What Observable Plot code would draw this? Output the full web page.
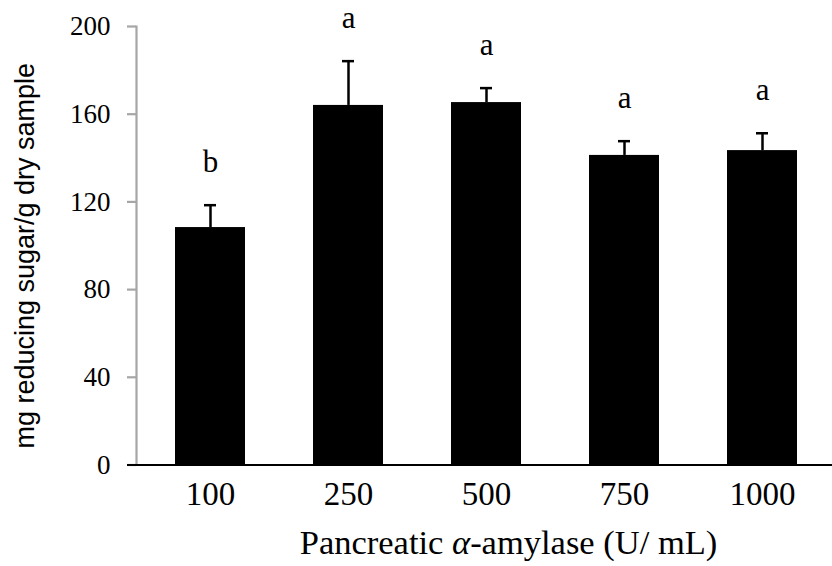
<!DOCTYPE html>
<html>
<head>
<meta charset="utf-8">
<script src="https://cdn.jsdelivr.net/npm/d3@7"></script>
<script src="https://cdn.jsdelivr.net/npm/@observablehq/plot@0.6"></script>
<style>
  html, body { margin: 0; padding: 0; background: white; }
</style>
</head>
<body>
<div id="chart"></div>
<script>
const categories = ["100", "250", "500", "750", "1000"];
const means = [108.3, 164.0, 165.3, 141.2, 143.4];
const errors = [10.2, 20.2, 6.6, 6.5, 7.9];
const letters = ["b", "a", "a", "a", "a"];
const yTicks = [0, 40, 80, 120, 160, 200];
const yTitle = "mg reducing sugar/g dry sample";
const xTitleParts = ["Pancreatic ", "α", "-amylase (U/ mL)"];
const xTitle = xTitleParts.join("");

const data = categories.map((c, i) => ({
  cat: c, mean: means[i], err: errors[i], upper: means[i] + errors[i], letter: letters[i]
}));

const chart = Plot.plot({
  width: 832,
  height: 566,
  marginLeft: 136,
  marginRight: 0,
  marginTop: 26,
  marginBottom: 101.5,
  style: { background: "white", fontFamily: "'Liberation Serif', serif", color: "black", overflow: "visible" },
  x: { type: "band", domain: categories, range: [140, 831], paddingInner: 0.494, paddingOuter: 0.247, label: null },
  y: { domain: [0, 200], ticks: yTicks, label: null },
  marks: [
    Plot.ruleX(data, { x: "cat", y1: "mean", y2: "upper", stroke: "black", strokeWidth: 2.5 }),
    Plot.tickY(data, { x: "cat", y: "upper", stroke: "black", strokeWidth: 2.5, insetLeft: 29, insetRight: 29 }),
    Plot.barY(data, { x: "cat", y: "mean", fill: "black" }),
    Plot.frame({ anchor: "left", stroke: "#a6a6a6", strokeWidth: 2.2 }),
    Plot.axisY({ ticks: yTicks, tickSize: 9, tickPadding: 17, stroke: "#a6a6a6", strokeWidth: 2.2, fontSize: 27, fill: "black", label: null }),
    Plot.ruleY([0], { stroke: "black", strokeWidth: 2, insetLeft: -9 }),
    Plot.axisX({ tickSize: 0, tickPadding: 17, fontSize: 33, fill: "black", label: null }),
    Plot.text(data, { x: "cat", y: "upper", text: "letter", dy: -33, lineAnchor: "bottom", fontSize: 31, fill: "black" }),
    Plot.text([yTitle], { frameAnchor: "left", rotate: -90, dx: -103, dy: 10, lineAnchor: "bottom", textAnchor: "middle", fontSize: 27, fontFamily: "'Liberation Sans', Arial, sans-serif", fill: "black" }),
    Plot.text([xTitle], { frameAnchor: "bottom", dx: 24, dy: 88.5, lineAnchor: "bottom", fontSize: 34.5, fill: "black" })
  ]
});

// italicise the alpha in the x-axis title
const t = [...chart.querySelectorAll("text")].find(n => n.textContent === xTitle);
if (t) {
  t.textContent = "";
  xTitleParts.forEach((p, i) => {
    const s = document.createElementNS("http://www.w3.org/2000/svg", "tspan");
    s.textContent = p;
    if (i === 1) s.setAttribute("font-style", "italic");
    t.appendChild(s);
  });
}

document.getElementById("chart").appendChild(chart);
</script>
</body>
</html>
